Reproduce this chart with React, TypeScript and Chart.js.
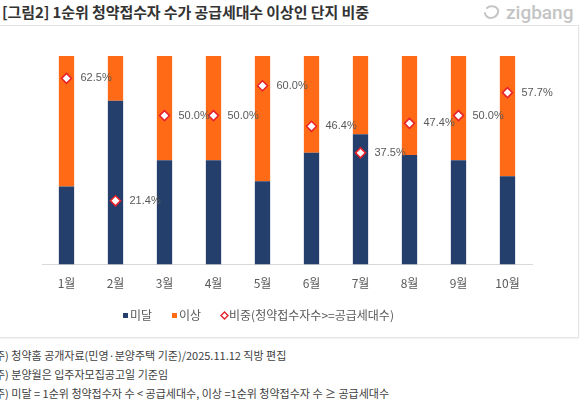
import React, { useEffect, useRef } from "react";
import { Chart, registerables } from "chart.js";

Chart.register(...registerables);

const months = ["1월", "2월", "3월", "4월", "5월", "6월", "7월", "8월", "9월", "10월"];
const underValues = [37.5, 78.6, 50.0, 50.0, 40.0, 53.6, 62.5, 52.6, 50.0, 42.3];
const overValues = [62.5, 21.4, 50.0, 50.0, 60.0, 46.4, 37.5, 47.4, 50.0, 57.7];
const ratioValues = [62.5, 21.4, 50.0, 50.0, 60.0, 46.4, 37.5, 47.4, 50.0, 57.7];
const seriesNames = ["미달", "이상", "비중(청약접수자수>=공급세대수)"];
const footnotes = [
  "주) 청약홈 공개자료(민영·분양주택 기준)/2025.11.12 직방 편집",
  "주) 분양월은 입주자모집공고일 기준임",
  "주) 미달 = 1순위 청약접수자 수  <  공급세대수, 이상 =1순위 청약접수자 수 ≥ 공급세대수",
];

const NAVY = "#243F6B";
const ORANGE = "#FF6A17";
const RED = "#E8212B";
const KR = "'Noto Sans CJK KR', 'Noto Sans', sans-serif";

const labelPlugin = {
  id: "ratioLabels",
  afterDatasetsDraw(chart: any) {
    const ctx = chart.ctx;
    const meta = chart.getDatasetMeta(2);
    ctx.save();
    ctx.font = "11px 'Liberation Sans', Arial, sans-serif";
    ctx.fillStyle = "#595959";
    ctx.textAlign = "left";
    ctx.textBaseline = "middle";
    meta.data.forEach((el: any, i: number) => {
      ctx.fillText(ratioValues[i].toFixed(1) + "%", el.x + 14, el.y);
    });
    ctx.restore();
  },
};

function ChartBox() {
  const ref = useRef<HTMLCanvasElement | null>(null);
  useEffect(() => {
    if (!ref.current) return;
    const chart = new Chart(ref.current, {
      type: "bar",
      data: {
        labels: months,
        datasets: [
          {
            type: "bar",
            label: seriesNames[0],
            data: underValues,
            backgroundColor: NAVY,
            yAxisID: "y",
            order: 1,
            categoryPercentage: 1,
            barPercentage: 0.312,
          },
          {
            type: "bar",
            label: seriesNames[1],
            data: overValues,
            backgroundColor: ORANGE,
            yAxisID: "y",
            order: 1,
            categoryPercentage: 1,
            barPercentage: 0.312,
          },
          {
            type: "line",
            label: seriesNames[2],
            data: ratioValues,
            yAxisID: "y1",
            showLine: false,
            pointStyle: "rectRot",
            pointRadius: 5,
            pointBorderWidth: 1.5,
            pointBackgroundColor: "#ffffff",
            pointBorderColor: RED,
            order: 0,
          } as any,
        ],
      },
      options: {
        animation: false,
        responsive: true,
        maintainAspectRatio: false,
        layout: { padding: { left: 42, right: 45, top: 30, bottom: 33 } },
        plugins: { legend: { display: false }, tooltip: { enabled: false } },
        scales: {
          x: {
            stacked: true,
            grid: { display: false, drawTicks: false },
            border: { display: true, color: "#D9D9D9", width: 1 },
            ticks: { color: "#595959", font: { size: 12, family: KR }, padding: 12 },
          },
          y: { stacked: true, display: false, min: 0, max: 100 },
          y1: { display: false, min: 0, max: 70 },
        },
      },
      plugins: [labelPlugin],
    });
    return () => chart.destroy();
  }, []);
  return (
    <div style={{ position: "absolute", left: 0, top: 26, width: 577, height: 310 }}>
      <canvas ref={ref} />
    </div>
  );
}

export default function App() {
  return (
    <div
      style={{
        position: "fixed",
        left: 0,
        top: 0,
        width: 580,
        height: 403,
        background: "#fff",
        overflow: "hidden",
        fontFamily: KR,
      }}
    >
      <div
        style={{
          position: "absolute",
          left: 2,
          top: 1,
          fontSize: 15,
          fontWeight: 700,
          color: "#333",
          whiteSpace: "nowrap",
          lineHeight: "22px",
          letterSpacing: "-0.1px",
        }}
      >
        [그림2] 1순위 청약접수자 수가 공급세대수 이상인 단지 비중
      </div>
      <div style={{ position: "absolute", left: 483, top: 3, display: "flex", alignItems: "center" }}>
        <svg width="18" height="16" viewBox="0 0 18 16">
          <path
            d="M4 3 C7 0, 14 1, 15 5 C16 9, 12 13, 8 13 C5 13, 2 11, 2 8"
            fill="none"
            stroke="#C4C4C4"
            strokeWidth="2"
            strokeLinecap="round"
          />
        </svg>
        <span
          style={{
            marginLeft: 5,
            fontFamily: "Roboto, sans-serif",
            fontSize: 19,
            fontWeight: 500,
            color: "#C4C4C4",
            lineHeight: "20px",
          }}
        >
          zigbang
        </span>
      </div>
      <div
        style={{
          position: "absolute",
          left: -2,
          top: 25,
          width: 579,
          height: 311,
          border: "1px solid #E3E3E3",
          boxShadow: "0 1px 2px rgba(0,0,0,0.06)",
        }}
      />
      <ChartBox />
      <div style={{ position: "absolute", left: 0, top: 305, height: 20, width: 580, fontSize: 12, color: "#595959" }}>
        <span style={{ position: "absolute", left: 123, top: 8, width: 5, height: 5, background: NAVY }} />
        <span style={{ position: "absolute", left: 130, top: 1, lineHeight: "18px" }}>{seriesNames[0]}</span>
        <span style={{ position: "absolute", left: 172, top: 8, width: 5, height: 5, background: ORANGE }} />
        <span style={{ position: "absolute", left: 179, top: 1, lineHeight: "18px" }}>{seriesNames[1]}</span>
        <svg style={{ position: "absolute", left: 220, top: 6 }} width="9" height="9" viewBox="0 0 9 9">
          <path d="M4.5 1 L8 4.5 L4.5 8 L1 4.5 Z" fill="#fff" stroke={RED} strokeWidth="1.4" />
        </svg>
        <span style={{ position: "absolute", left: 229, top: 1, lineHeight: "18px", whiteSpace: "nowrap" }}>
          {seriesNames[2]}
        </span>
      </div>
      {footnotes.map((t, i) => (
        <div
          key={i}
          style={{
            position: "absolute",
            left: -5,
            top: 346 + i * 19,
            fontSize: 11,
            lineHeight: "18px",
            color: "#404040",
            whiteSpace: "nowrap",
          }}
        >
          {t}
        </div>
      ))}
    </div>
  );
}
